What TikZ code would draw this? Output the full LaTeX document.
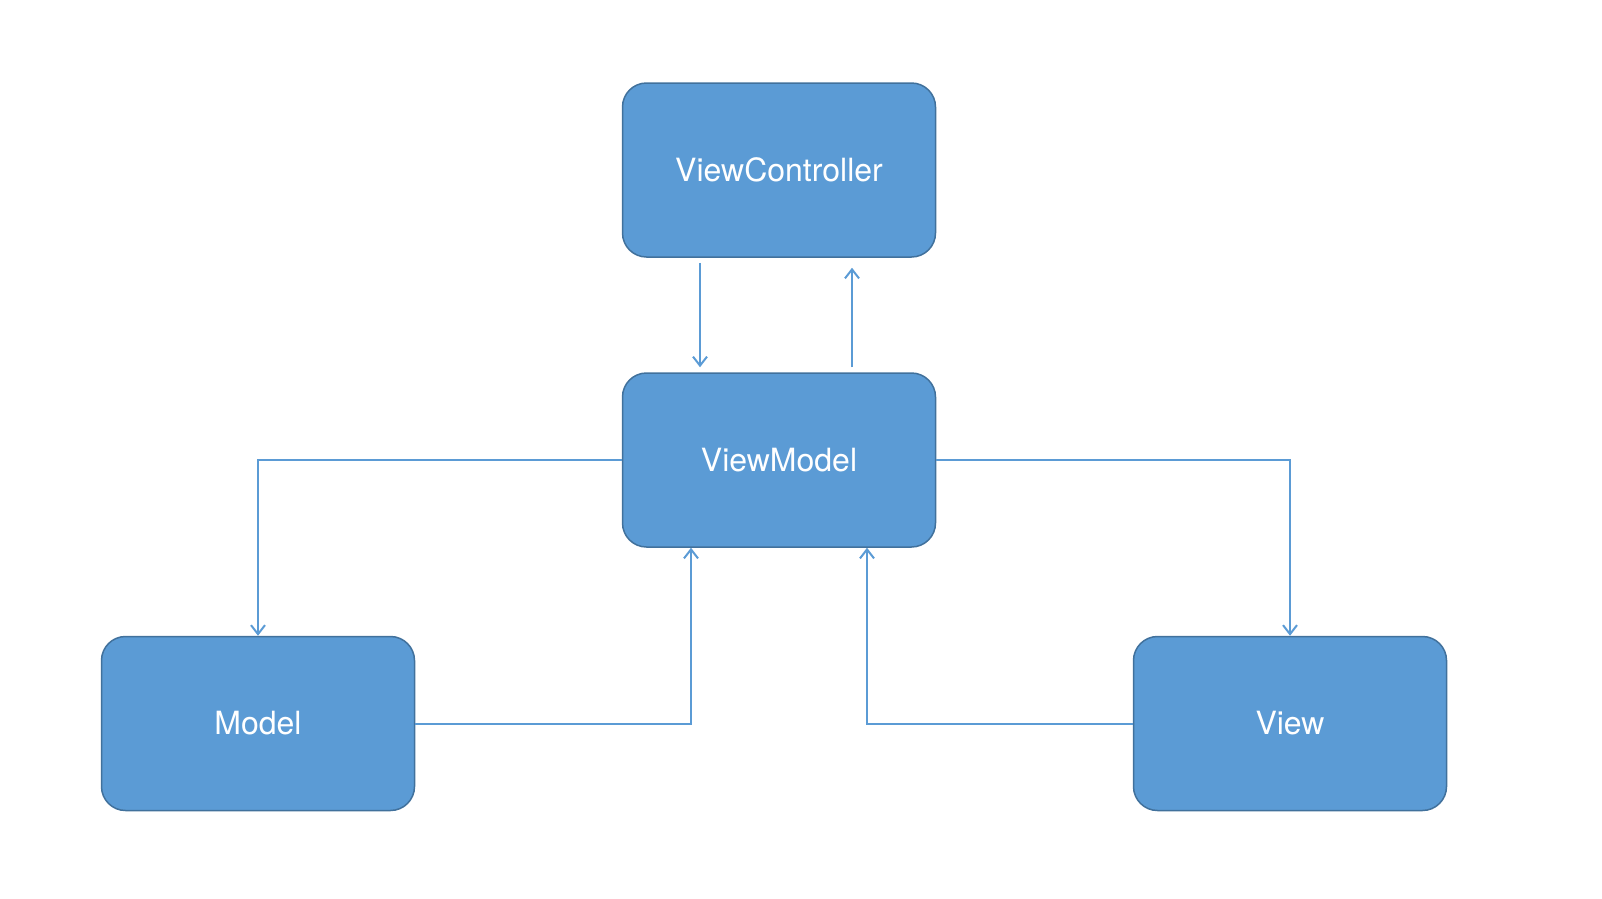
\documentclass[tikz,border=0pt]{standalone}
\usepackage{fontspec}
\setmainfont{TeX Gyre Heros}
\usetikzlibrary{arrows.meta}
\definecolor{boxblue}{HTML}{5B9BD5}
\definecolor{boxedge}{HTML}{41719C}

\begin{document}
\begin{tikzpicture}[x=1pt,y=-1pt,
  blok/.style={draw=boxedge,line width=1.5pt,fill=boxblue,rounded corners=24pt,
    minimum width=313pt,minimum height=174pt,text=white,font=\fontsize{32}{38}\selectfont},
  link/.style={draw=boxblue,line width=2pt,-{Straight Barb[length=9pt,width=14pt]}}]
  \useasboundingbox (0,0) rectangle (1602,898);

  % boxes
  \node[blok] (vc) at (779,170) {ViewController};
  \node[blok] (vm) at (779,460) {ViewModel};
  \node[blok] (model) at (258,723.5) {Model};
  \node[blok] (view) at (1290,723.5) {View};

  % links
  \draw[link,shorten <=5pt,shorten >=5pt] ([xshift=-79pt]vc.south) -- ([xshift=-79pt]vm.north);
  \draw[link,shorten <=5pt,shorten >=10pt] ([xshift=73pt]vm.north) -- ([xshift=73pt]vc.south);
  \draw[link] (vm.west) -| (model.north);
  \draw[link] (vm.east) -| (view.north);
  \draw[link] (model.east) -| ([xshift=-88pt]vm.south);
  \draw[link] (view.west) -| ([xshift=88pt]vm.south);
\end{tikzpicture}
\end{document}
